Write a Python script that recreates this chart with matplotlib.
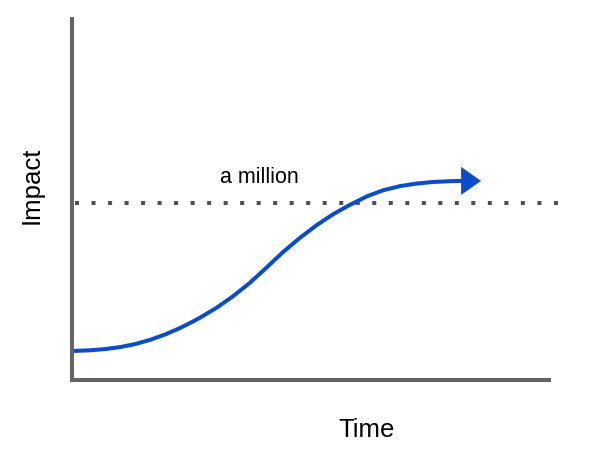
import matplotlib
matplotlib.use("Agg")
import matplotlib.pyplot as plt
from matplotlib.patches import FancyArrowPatch

plt.rcParams["font.family"] = ["Liberation Sans", "DejaVu Sans"]

# Data (time and impact on a 0-100 scale)
curve_time = [0.0, 3.77, 6.92, 10.06, 13.21, 16.35, 19.50, 22.64, 25.37, 26.83,
              30.40, 33.75, 37.32, 40.88, 44.23, 47.80, 51.36, 54.72, 58.28,
              61.84, 65.20, 68.76, 72.33, 75.68, 79.25, 81.97]
curve_impact = [8.03, 8.23, 8.56, 9.11, 9.94, 11.11, 12.60, 14.40, 16.20, 17.26,
                20.08, 23.19, 26.95, 31.27, 35.43, 39.39, 42.96, 45.90, 48.53,
                50.89, 52.55, 53.71, 54.43, 54.85, 55.07, 55.15]
arrow_tip_time = 85.74
threshold = 48.9
threshold_label = "a million"
x_label = "Time"
y_label = "Impact"

BLUE = "#0b4ccc"
GRAY = "#646464"
DPI = 100
W, H = 592, 454

fig = plt.figure(figsize=(W / DPI, H / DPI), dpi=DPI)
ax = fig.add_axes([72 / W, (H - 380) / H, (549 - 72) / W, (380 - 19) / H])
ax.set_xlim(0, 100)
ax.set_ylim(0, 100)

# Axes: only left and bottom spines, no ticks
for side in ["top", "right"]:
    ax.spines[side].set_visible(False)
for side in ["left", "bottom"]:
    ax.spines[side].set_color(GRAY)
    ax.spines[side].set_linewidth(2.9)
ax.set_xticks([])
ax.set_yticks([])

# Dotted threshold line
ax.plot([0.7, 103.6], [threshold, threshold], color="#505050", lw=2.9,
        linestyle=(0, (1, 3.1)), dash_capstyle="butt", clip_on=False)
ax.text(39.3, 56.0, threshold_label, ha="center", va="center", fontsize=15.5)

# The S-curve with arrow head
ax.plot(curve_time, curve_impact, color=BLUE, lw=2.9,
        solid_capstyle="butt", solid_joinstyle="round")
arrow = FancyArrowPatch((curve_time[-1], curve_impact[-1]),
                        (arrow_tip_time, curve_impact[-1]),
                        arrowstyle="-|>,head_length=13.7,head_width=9.7",
                        mutation_scale=1, shrinkA=0, shrinkB=0,
                        color=BLUE, lw=0.5)
ax.add_patch(arrow)

# Axis labels
fig.text(367 / W, (H - 430) / H, x_label, ha="center", va="center", fontsize=18.5)
fig.text(32 / W, (H - 185) / H, y_label, ha="center", va="center",
         rotation=90, fontsize=18.5)

fig.savefig("out.png", dpi=DPI)
